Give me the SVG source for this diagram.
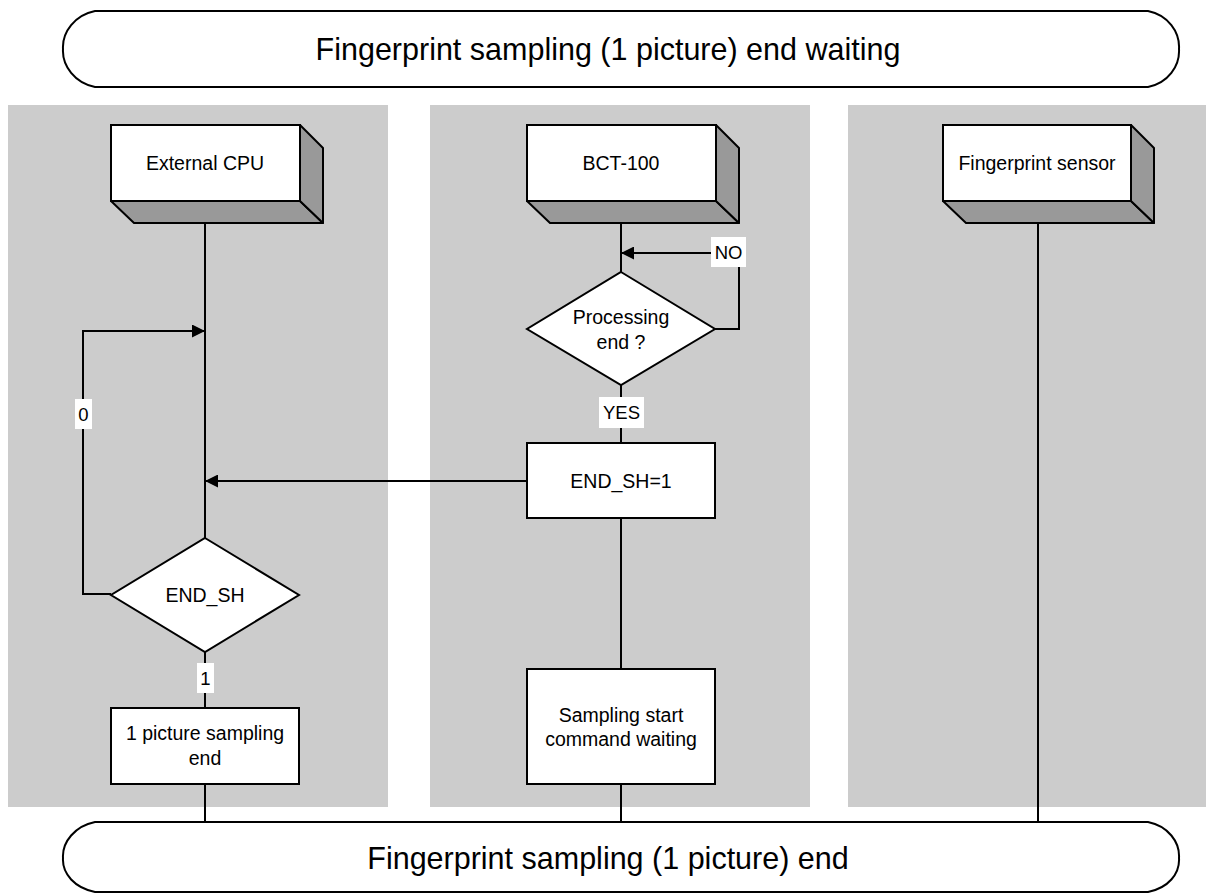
<svg xmlns="http://www.w3.org/2000/svg" width="1214" height="895" viewBox="0 0 1214 895">
<defs>
<marker id="arr" viewBox="0 0 13 13" refX="13" refY="6.5" markerWidth="13" markerHeight="13" markerUnits="userSpaceOnUse" orient="auto">
<path d="M0,0 L13,6.5 L0,13 Z" fill="#000"/>
</marker>
<style>
.lane{fill:#cccccc;stroke:none}
.box{fill:#fff;stroke:#000;stroke-width:2}
.side{fill:#999999;stroke:#000;stroke-width:2;stroke-linejoin:round}
.ban{fill:#fff;stroke:#000;stroke-width:2}
.ln{fill:none;stroke:#000;stroke-width:2}
.lbg{fill:#fff;stroke:none}
text{font-family:"Liberation Sans",Arial,sans-serif;fill:#000;text-anchor:middle}
.t{font-size:19.5px}
.l{font-size:18.5px}
.big{font-size:30.5px}
</style>
</defs>
<rect width="1214" height="895" fill="#fff"/>
<g id="lanes">
<rect class="lane" x="8" y="105" width="380" height="702"/>
<rect class="lane" x="430" y="105" width="380" height="702"/>
<rect class="lane" x="848" y="105" width="358" height="702"/>
</g>
<g id="connectors">
<line class="ln" x1="205" y1="223" x2="205" y2="538"/>
<polyline class="ln" points="111,594 83,594 83,331 205,331" marker-end="url(#arr)"/>
<line class="ln" x1="527" y1="481" x2="205" y2="481" marker-end="url(#arr)"/>
<line class="ln" x1="205" y1="652" x2="205" y2="708"/>
<line class="ln" x1="205" y1="784" x2="205" y2="822"/>
<line class="ln" x1="621" y1="223" x2="621" y2="272"/>
<polyline class="ln" points="715,329 739,329 739,253 621,253" marker-end="url(#arr)"/>
<line class="ln" x1="621" y1="385" x2="621" y2="443"/>
<line class="ln" x1="621" y1="518" x2="621" y2="669"/>
<line class="ln" x1="621" y1="784" x2="621" y2="822"/>
<line class="ln" x1="1038" y1="223" x2="1038" y2="822"/>
</g>
<g id="labels">
<rect class="lbg" x="711" y="237" width="35" height="30"/>
<text class="l" x="728.5" y="259">NO</text>
<rect class="lbg" x="599" y="397" width="45" height="31"/>
<text class="l" x="621.5" y="419">YES</text>
<rect class="lbg" x="75" y="399" width="17" height="30"/>
<text class="l" x="83.5" y="421">0</text>
<rect class="lbg" x="197" y="663" width="17" height="30"/>
<text class="l" x="205.5" y="685">1</text>
</g>
<g id="banner-top">
<path class="ban" d="M95,11 H1148 C1168,15 1180,32 1179,49 C1180,66 1168,83 1148,87 H95 C75,83 62,66 63,49 C62,32 75,15 95,11 Z"/>
<text class="big" x="608" y="60">Fingerprint sampling (1 picture) end waiting</text>
</g>
<g id="banner-bottom">
<path class="ban" d="M95,822 H1148 C1168,826 1180,842 1179,858 C1180,874 1168,888 1148,892 H95 C75,888 62,874 63,858 C62,842 75,826 95,822 Z"/>
<text class="big" x="608" y="869">Fingerprint sampling (1 picture) end</text>
</g>
<g id="external-cpu">
<path class="side" d="M111,201 L134,223 L323,223 L300,201 Z"/>
<path class="side" d="M300,125 L323,148 L323,223 L300,201 Z"/>
<rect class="box" x="111" y="125" width="189" height="76"/>
<text class="t" x="205" y="170">External CPU</text>
</g>
<g id="bct-100">
<path class="side" d="M527,201 L550,223 L739,223 L716,201 Z"/>
<path class="side" d="M716,125 L739,148 L739,223 L716,201 Z"/>
<rect class="box" x="527" y="125" width="189" height="76"/>
<text class="t" x="621" y="170">BCT-100</text>
</g>
<g id="fingerprint-sensor">
<path class="side" d="M943,201 L966,223 L1154,223 L1131,201 Z"/>
<path class="side" d="M1131,125 L1154,148 L1154,223 L1131,201 Z"/>
<rect class="box" x="943" y="125" width="188" height="76"/>
<text class="t" x="1037" y="170">Fingerprint sensor</text>
</g>
<g id="processing-end">
<polygon class="box" points="621,272 715,329 621,385 527,329"/>
<text class="t" x="621" y="324">Processing</text>
<text class="t" x="621" y="349">end ?</text>
</g>
<g id="end-sh-1">
<rect class="box" x="527" y="443" width="188" height="75"/>
<text class="t" x="621" y="488">END_SH=1</text>
</g>
<g id="end-sh">
<polygon class="box" points="205,538 299,595 205,652 111,595"/>
<text class="t" x="205" y="602">END_SH</text>
</g>
<g id="picture-sampling-end">
<rect class="box" x="111" y="708" width="188" height="76"/>
<text class="t" x="205" y="740">1 picture sampling</text>
<text class="t" x="205" y="765">end</text>
</g>
<g id="sampling-start">
<rect class="box" x="527" y="669" width="188" height="115"/>
<text class="t" x="621" y="722">Sampling start</text>
<text class="t" x="621" y="746">command waiting</text>
</g>
</svg>
